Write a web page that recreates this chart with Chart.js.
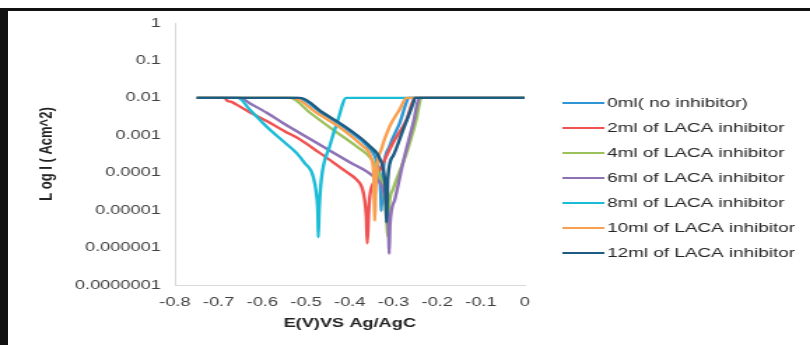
<!DOCTYPE html>
<html>
<head>
<meta charset="utf-8">
<script src="https://cdn.jsdelivr.net/npm/chart.js@4"></script>
<style>
  html, body { margin: 0; padding: 0; background: #fff; }
  body { width: 810px; height: 345px; position: relative; overflow: hidden; }
  #frame {
    position: absolute; left: 0; top: 8px; width: 802px; height: 337px;
    border-left: 8px solid #111; border-top: 3px solid #111;
  }
  /* the original picture is stretched sideways, so the chart is too */
  #wrap {
    position: absolute; left: 0; top: 0; width: 579px; height: 345px;
    transform: scaleX(1.399); transform-origin: 0 0;
  }
</style>
</head>
<body>
<div id="frame"></div>
<div id="wrap"><canvas id="tafel" width="579" height="345"></canvas></div>
<script>
const seriesNames = [
  "0ml( no inhibitor)",
  "2ml of LACA inhibitor",
  "4ml of LACA inhibitor",
  "6ml of LACA inhibitor",
  "8ml of LACA inhibitor",
  "10ml of LACA inhibitor",
  "12ml of LACA inhibitor",
];
const seriesColors = ["#2f96d3", "#f05252", "#9bc15c", "#8e72b5", "#1bbcd6", "#f9a050", "#1d5c82"];

// E (V) and current density for each curve
const e0 = [-0.75, -0.52, -0.465, -0.405, -0.36, -0.34, -0.332, -0.329, -0.328, -0.326, -0.324, -0.309, -0.286, -0.263, 0];
const i0 = [1e-2, 1e-2, 4.0e-3, 1.4e-3, 5.1e-4, 2.3e-4, 7.9e-5, 2.5e-5, 9.5e-6, 3.2e-5, 1.0e-4, 5.1e-4, 2.1e-3, 1e-2, 1e-2];

const e2 = [-0.75, -0.686, -0.68, -0.672, -0.659, -0.63, -0.59, -0.55, -0.514, -0.475, -0.438, -0.41, -0.385, -0.372, -0.366, -0.362, -0.36, -0.357, -0.354, -0.345, -0.331, -0.301, -0.27, -0.251, 0];
const i2 = [1e-2, 1e-2, 8.3e-3, 7.9e-3, 6.6e-3, 4.2e-3, 2.4e-3, 1.3e-3, 7.8e-4, 3.8e-4, 1.9e-4, 1.1e-4, 6.6e-5, 4.0e-5, 1.9e-5, 6.3e-6, 1.3e-6, 7.9e-6, 2.4e-5, 5.6e-5, 1.2e-4, 6.3e-4, 2.6e-3, 1e-2, 1e-2];

const e4 = [-0.75, -0.537, -0.491, -0.438, -0.385, -0.35, -0.331, -0.32, -0.315, -0.313, -0.31, -0.301, -0.27, -0.248, -0.236, 0];
const i4 = [1e-2, 1e-2, 4.0e-3, 1.4e-3, 5.1e-4, 2.3e-4, 8.1e-5, 2.0e-5, 4.0e-6, 2.0e-6, 1.3e-5, 3.6e-5, 3.4e-4, 2.6e-3, 1e-2, 1e-2];

const e6 = [-0.75, -0.651, -0.629, -0.59, -0.552, -0.476, -0.4, -0.347, -0.324, -0.315, -0.311, -0.31, -0.308, -0.297, -0.278, -0.255, -0.24, 0];
const i6 = [1e-2, 1e-2, 7.2e-3, 4.0e-3, 2.1e-3, 6.3e-4, 1.9e-4, 8.1e-5, 3.6e-5, 1.0e-5, 2.5e-6, 6.8e-7, 4.0e-6, 1.9e-5, 1.9e-4, 2.1e-3, 1e-2, 1e-2];

const e8 = [-0.75, -0.656, -0.629, -0.59, -0.55, -0.522, -0.503, -0.484, -0.476, -0.473, -0.472, -0.47, -0.465, -0.446, -0.427, -0.408, 0];
const i8 = [1e-2, 1e-2, 4.9e-3, 1.7e-3, 6.6e-4, 3.4e-4, 1.8e-4, 8.1e-5, 2.5e-5, 7.9e-6, 1.9e-6, 1.0e-5, 6.6e-5, 5.1e-4, 2.6e-3, 1e-2, 1e-2];

const e10 = [-0.75, -0.53, -0.476, -0.415, -0.37, -0.35, -0.345, -0.344, -0.343, -0.341, -0.339, -0.328, -0.309, -0.286, -0.27, 0];
const i10 = [1e-2, 1e-2, 4.0e-3, 1.4e-3, 5.1e-4, 2.3e-4, 6.6e-5, 1.6e-5, 5.2e-6, 2.5e-5, 1.0e-4, 4.2e-4, 1.7e-3, 4.9e-3, 1e-2, 1e-2];

const e12 = [-0.75, -0.514, -0.461, -0.4, -0.354, -0.331, -0.32, -0.317, -0.316, -0.314, -0.313, -0.301, -0.278, -0.255, -0.251, 0];
const i12 = [1e-2, 1e-2, 4.0e-3, 1.4e-3, 5.1e-4, 2.3e-4, 6.6e-5, 1.6e-5, 4.7e-6, 2.0e-5, 6.6e-5, 2.8e-4, 1.4e-3, 7.2e-3, 1e-2, 1e-2];

const potentials = [e0, e2, e4, e6, e8, e10, e12];
const currents = [i0, i2, i4, i6, i8, i10, i12];

const yTicks = [1e-7, 1e-6, 1e-5, 1e-4, 1e-3, 1e-2, 1e-1, 1];
const yTickLabels = ["0.0000001", "0.000001", "0.00001", "0.0001", "0.001", "0.01", "0.1", "1"];

const FONT = "'Liberation Sans', Arial, sans-serif";

// legend drawn by hand so it sits where the original one does
const sideLegend = {
  id: "sideLegend",
  afterDraw(chart) {
    const ctx = chart.ctx;
    ctx.save();
    ctx.font = "13.5px " + FONT;
    ctx.textBaseline = "middle";
    ctx.textAlign = "left";
    chart.data.datasets.forEach((ds, i) => {
      const y = 103 + i * 25;
      ctx.strokeStyle = ds.borderColor;
      ctx.lineWidth = 2;
      ctx.beginPath();
      ctx.moveTo(402, y);
      ctx.lineTo(432, y);
      ctx.stroke();
      ctx.fillStyle = "#262626";
      ctx.fillText(ds.label, 434, y + 0.5);
    });
    ctx.restore();
  },
};

new Chart(document.getElementById("tafel"), {
  type: "scatter",
  data: {
    datasets: seriesNames.map((name, k) => ({
      label: name,
      data: potentials[k].map((x, j) => ({ x, y: currents[k][j] })),
      borderColor: seriesColors[k],
      backgroundColor: seriesColors[k],
      borderWidth: 2.4,
      showLine: true,
      pointRadius: 0,
      cubicInterpolationMode: "monotone",
      order: seriesNames.length - 1 - k, // last series on top
    })),
  },
  options: {
    responsive: false,
    animation: false,
    layout: { padding: { left: 22, top: 23, right: 204, bottom: 10 } },
    plugins: { legend: { display: false }, tooltip: { enabled: false } },
    scales: {
      x: {
        type: "linear",
        min: -0.8,
        max: 0,
        afterFit: (s) => { s.height = 50; },
        ticks: { stepSize: 0.1, padding: 10, color: "#404040", font: { family: FONT, size: 13 } },
        grid: { color: "transparent", drawTicks: false },
        border: { display: true, color: "#d9d9d9" },
        title: {
          display: true,
          text: "E(V)VS Ag/AgC",
          color: "#222",
          font: { family: FONT, size: 13, weight: "bold" },
        },
      },
      y: {
        type: "logarithmic",
        min: 1e-7,
        max: 1,
        afterFit: (s) => { s.width = 103; },
        afterBuildTicks: (s) => { s.ticks = yTicks.map((v) => ({ value: v })); },
        ticks: {
          padding: 10,
          color: "#404040",
          font: { family: FONT, size: 13 },
          callback: (v, i) => yTickLabels[i],
        },
        grid: { color: "transparent", drawTicks: false },
        border: { display: true, color: "#d9d9d9" },
        title: {
          display: true,
          text: "L og I ( Acm^2)",
          color: "#222",
          font: { family: FONT, size: 13, weight: "bold" },
        },
      },
    },
  },
  plugins: [sideLegend],
});
</script>
</body>
</html>
